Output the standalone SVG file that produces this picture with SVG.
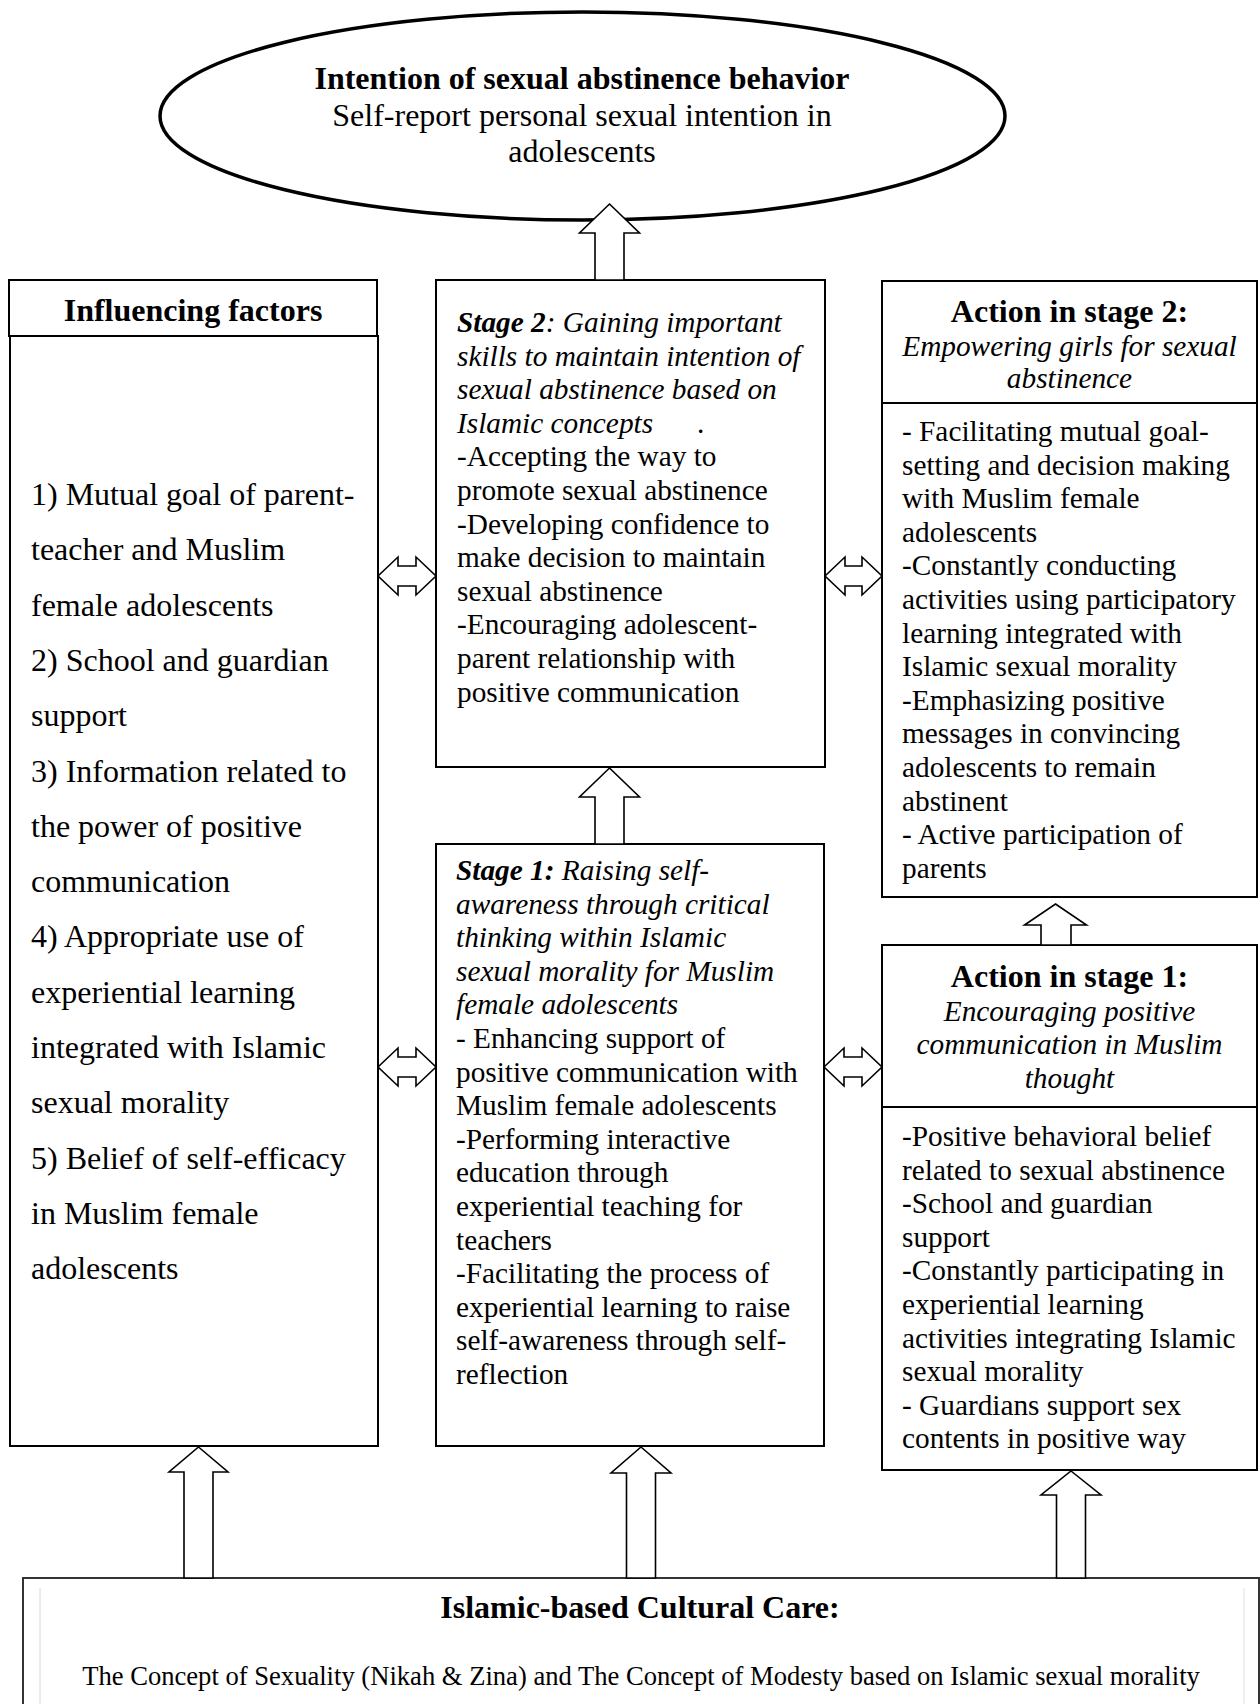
<svg xmlns="http://www.w3.org/2000/svg" width="1260" height="1704" viewBox="0 0 1260 1704">
<style>
.bx{fill:#fff;stroke:#000;stroke-width:2}
.ar{fill:#fff;stroke:#000;stroke-width:1.6;stroke-linejoin:miter}
text{font-family:"Liberation Serif","Times New Roman",serif;fill:#000}
.h{font-size:32px;font-weight:bold}
.r32{font-size:32px}
.r{font-size:29.3px}
.i{font-style:italic}
.bi{font-style:italic;font-weight:bold}
.c{text-anchor:middle}
.bt{font-size:26.6px}
</style>
<rect width="1260" height="1704" fill="#fff"/>

<g id="intention">
<ellipse cx="582.5" cy="116" rx="422.5" ry="104" fill="#fff" stroke="#000" stroke-width="3.5"/>
<text class="h c" x="582" y="89">Intention of sexual abstinence behavior</text>
<text class="r32 c" x="582" y="126">Self-report personal sexual intention in</text>
<text class="r32 c" x="582" y="162">adolescents</text>
</g>

<g id="influencing-factors">
<rect class="bx" x="9" y="280" width="368" height="56"/>
<rect class="bx" x="10" y="336" width="368" height="1110"/>
<text class="h c" x="193" y="321">Influencing factors</text>
<g class="r32">
<text x="31" y="505">1) Mutual goal of parent-</text>
<text x="31" y="560.3">teacher and Muslim</text>
<text x="31" y="615.6">female adolescents</text>
<text x="31" y="670.9">2) School and guardian</text>
<text x="31" y="726.2">support</text>
<text x="31" y="781.5">3) Information related to</text>
<text x="31" y="836.8">the power of positive</text>
<text x="31" y="892.1">communication</text>
<text x="31" y="947.4">4) Appropriate use of</text>
<text x="31" y="1002.7">experiential learning</text>
<text x="31" y="1058">integrated with Islamic</text>
<text x="31" y="1113.3">sexual morality</text>
<text x="31" y="1168.6">5) Belief of self-efficacy</text>
<text x="31" y="1223.9">in Muslim female</text>
<text x="31" y="1279.2">adolescents</text>
</g>
</g>

<g id="stage2">
<rect class="bx" x="436" y="280" width="389" height="487"/>
<g class="r">
<text x="457" y="332"><tspan class="bi">Stage 2</tspan><tspan class="i">: Gaining important</tspan></text>
<text class="i" x="457" y="365.6">skills to maintain intention of</text>
<text class="i" x="457" y="399.2">sexual abstinence based on</text>
<text class="i" x="457" y="432.8">Islamic concepts</text>
<text x="697" y="432.8">.</text>
<text x="457" y="466.4">-Accepting the way to</text>
<text x="457" y="500">promote sexual abstinence</text>
<text x="457" y="533.6">-Developing confidence to</text>
<text x="457" y="567.2">make decision to maintain</text>
<text x="457" y="600.8">sexual abstinence</text>
<text x="457" y="634.4">-Encouraging adolescent-</text>
<text x="457" y="668">parent relationship with</text>
<text x="457" y="701.6">positive communication</text>
</g>
</g>

<g id="stage1">
<rect class="bx" x="436" y="844" width="388" height="602"/>
<g class="r">
<text x="456" y="880"><tspan class="bi">Stage 1:</tspan><tspan class="i"> Raising self-</tspan></text>
<text class="i" x="456" y="913.6">awareness through critical</text>
<text class="i" x="456" y="947.2">thinking within Islamic</text>
<text class="i" x="456" y="980.8">sexual morality for Muslim</text>
<text class="i" x="456" y="1014.4">female adolescents</text>
<text x="456" y="1048">- Enhancing support of</text>
<text x="456" y="1081.6">positive communication with</text>
<text x="456" y="1115.2">Muslim female adolescents</text>
<text x="456" y="1148.8">-Performing interactive</text>
<text x="456" y="1182.4">education through</text>
<text x="456" y="1216">experiential teaching for</text>
<text x="456" y="1249.6">teachers</text>
<text x="456" y="1283.2">-Facilitating the process of</text>
<text x="456" y="1316.8">experiential learning to raise</text>
<text x="456" y="1350.4">self-awareness through self-</text>
<text x="456" y="1384">reflection</text>
</g>
</g>

<g id="action-stage2">
<rect class="bx" x="882" y="281" width="375" height="122"/>
<rect class="bx" x="882" y="403" width="375" height="494"/>
<text class="h c" x="1069.5" y="322">Action in stage 2:</text>
<text class="r i c" x="1069.5" y="355.5">Empowering girls for sexual</text>
<text class="r i c" x="1069.5" y="388">abstinence</text>
<g class="r">
<text x="902" y="441">- Facilitating mutual goal-</text>
<text x="902" y="474.6">setting and decision making</text>
<text x="902" y="508.2">with Muslim female</text>
<text x="902" y="541.8">adolescents</text>
<text x="902" y="575.4">-Constantly conducting</text>
<text x="902" y="609">activities using participatory</text>
<text x="902" y="642.6">learning integrated with</text>
<text x="902" y="676.2">Islamic sexual morality</text>
<text x="902" y="709.8">-Emphasizing positive</text>
<text x="902" y="743.4">messages in convincing</text>
<text x="902" y="777">adolescents to remain</text>
<text x="902" y="810.6">abstinent</text>
<text x="902" y="844.2">- Active participation of</text>
<text x="902" y="877.8">parents</text>
</g>
</g>

<g id="action-stage1">
<rect class="bx" x="882" y="945" width="375" height="162"/>
<rect class="bx" x="882" y="1107" width="375" height="363"/>
<text class="h c" x="1069.5" y="987">Action in stage 1:</text>
<text class="r i c" x="1069.5" y="1020.6">Encouraging positive</text>
<text class="r i c" x="1069.5" y="1054.2">communication in Muslim</text>
<text class="r i c" x="1069.5" y="1087.8">thought</text>
<g class="r">
<text x="902" y="1146">-Positive behavioral belief</text>
<text x="902" y="1179.6">related to sexual abstinence</text>
<text x="902" y="1213.2">-School and guardian</text>
<text x="902" y="1246.8">support</text>
<text x="902" y="1280.4">-Constantly participating in</text>
<text x="902" y="1314">experiential learning</text>
<text x="902" y="1347.6">activities integrating Islamic</text>
<text x="902" y="1381.2">sexual morality</text>
<text x="902" y="1414.8">- Guardians support sex</text>
<text x="902" y="1448.4">contents in positive way</text>
</g>
</g>

<g id="cultural-care">
<rect x="23" y="1578" width="1236" height="140" fill="#fff" stroke="#333" stroke-width="2"/>
<line x1="40" y1="1588" x2="40" y2="1704" stroke="#d8d8d8" stroke-width="1"/>
<line x1="1244" y1="1588" x2="1244" y2="1704" stroke="#e0e0e0" stroke-width="1"/>
<text class="h c" x="640" y="1618">Islamic-based Cultural Care:</text>
<text class="bt c" x="641" y="1685">The Concept of Sexuality (Nikah &amp; Zina) and The Concept of Modesty based on Islamic sexual morality</text>
</g>

<g id="connectors">
<path class="ar" d="M609.5,204 L639.5,233 L624,233 L624,280 L595,280 L595,233 L579.5,233 Z"/>
<path class="ar" d="M609.5,768 L639.5,797 L624,797 L624,844 L595,844 L595,797 L579.5,797 Z"/>
<path class="ar" d="M1055.5,904 L1086.5,925 L1071,925 L1071,945 L1041,945 L1041,925 L1024.5,925 Z"/>
<path class="ar" d="M198.5,1447 L228,1472 L213,1472 L213,1578 L184,1578 L184,1472 L169,1472 Z"/>
<path class="ar" d="M641,1447 L671,1473 L655.5,1473 L655.5,1578 L626.5,1578 L626.5,1473 L611,1473 Z"/>
<path class="ar" d="M1071,1471 L1101,1495 L1085.5,1495 L1085.5,1578 L1056.5,1578 L1056.5,1495 L1041,1495 Z"/>
<path class="ar" d="M378,576 L398,557 L398,566 L416,566 L416,557 L436,576 L416,595 L416,586 L398,586 L398,595 Z"/>
<path class="ar" d="M825,576 L845,557 L845,566 L862,566 L862,557 L882,576 L862,595 L862,586 L845,586 L845,595 Z"/>
<path class="ar" d="M378,1067 L398,1048 L398,1057 L416,1057 L416,1048 L436,1067 L416,1086 L416,1077 L398,1077 L398,1086 Z"/>
<path class="ar" d="M824,1067 L844,1048 L844,1057 L862,1057 L862,1048 L882,1067 L862,1086 L862,1077 L844,1077 L844,1086 Z"/>
</g>
</svg>
